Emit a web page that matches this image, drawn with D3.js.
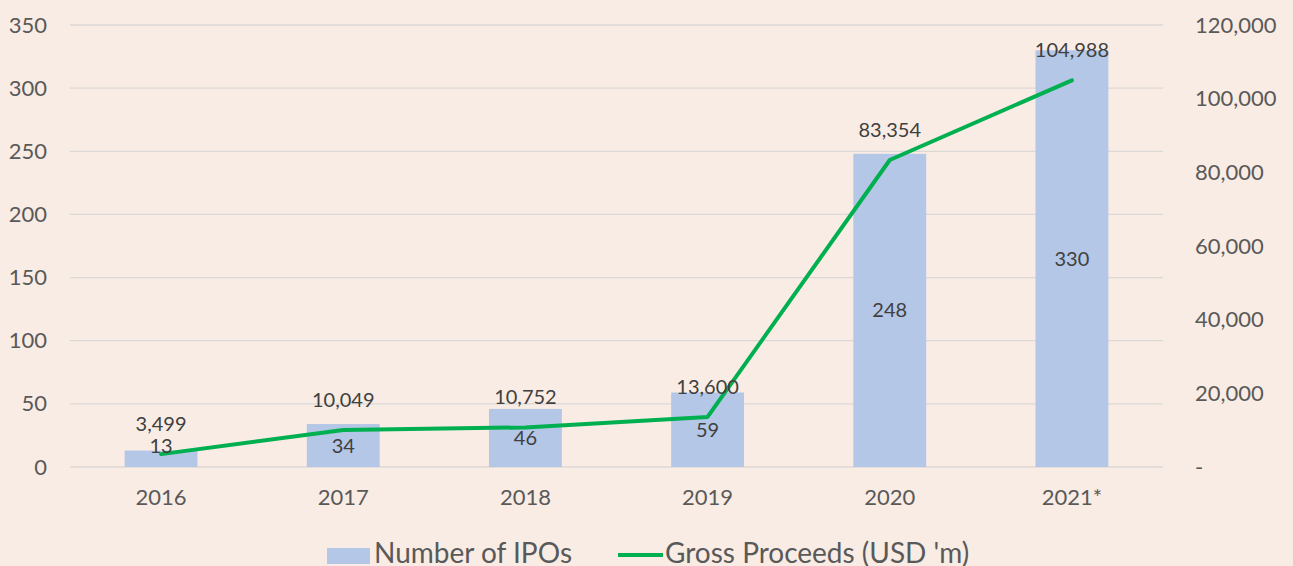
<!DOCTYPE html>
<html>
<head>
<meta charset="utf-8">
<script src="https://cdn.jsdelivr.net/npm/d3@7"></script>
<style>
  html, body { margin: 0; padding: 0; background: #f9ece4; }
  svg { display: block; }
  text { font-family: Lato, "Noto Sans", sans-serif; }
</style>
</head>
<body>
<svg id="chart" width="1293" height="566"></svg>
<script>
const categories = ["2016", "2017", "2018", "2019", "2020", "2021*"];
const ipoCounts = [13, 34, 46, 59, 248, 330];
const grossProceeds = [3499, 10049, 10752, 13600, 83354, 104988];
const leftTicks = [0, 50, 100, 150, 200, 250, 300, 350];
const rightTicks = [0, 20000, 40000, 60000, 80000, 100000, 120000];
const seriesNames = ["Number of IPOs", "Gross Proceeds (USD 'm)"];

const W = 1293, H = 566;
const plot = { left: 70, right: 1163, top: 25, bottom: 467 };
const svg = d3.select("#chart");
svg.append("rect").attr("width", W).attr("height", H).attr("fill", "#f9ece4");

const x = d3.scaleBand().domain(categories).range([plot.left, plot.right])
  .paddingInner(0.6).paddingOuter(0.3);
const yL = d3.scaleLinear().domain([0, 350]).range([plot.bottom, plot.top]);
const yR = d3.scaleLinear().domain([0, 120000]).range([plot.bottom, plot.top]);

const axisColor = "#595959";
const fmt = d3.format(",");

// gridlines
svg.append("g").selectAll("line").data(leftTicks).join("line")
  .attr("x1", plot.left).attr("x2", plot.right)
  .attr("y1", d => yL(d)).attr("y2", d => yL(d))
  .attr("stroke", "#dcd8d6").attr("stroke-width", 1.3);

// left axis
const gL = svg.append("g").attr("transform", "translate(47,0)")
  .call(d3.axisLeft(yL).tickValues(leftTicks).tickSize(0).tickPadding(0));
gL.select(".domain").remove();
gL.selectAll("text").attr("font-size", 22).attr("fill", axisColor)
  .attr("font-family", "Lato, 'Noto Sans', sans-serif");

// right axis
const gR = svg.append("g").attr("transform", "translate(1195,0)")
  .call(d3.axisRight(yR).tickValues(rightTicks).tickSize(0).tickPadding(0)
    .tickFormat(d => d === 0 ? "-" : fmt(d)));
gR.select(".domain").remove();
gR.selectAll("text").attr("font-size", 22).attr("fill", axisColor)
  .attr("font-family", "Lato, 'Noto Sans', sans-serif");

// x axis
const gX = svg.append("g").attr("transform", `translate(0,${plot.bottom})`)
  .call(d3.axisBottom(x).tickSize(0).tickPadding(22));
gX.select(".domain").remove();
gX.selectAll("text").attr("font-size", 22).attr("fill", axisColor)
  .attr("font-family", "Lato, 'Noto Sans', sans-serif");

// bars
svg.append("g").selectAll("rect").data(ipoCounts).join("rect")
  .attr("x", (d, i) => x(categories[i]))
  .attr("width", x.bandwidth())
  .attr("y", d => yL(d))
  .attr("height", d => yL(0) - yL(d))
  .attr("fill", "#b4c7e7");

// line
const line = d3.line()
  .x((d, i) => x(categories[i]) + x.bandwidth() / 2)
  .y(d => yR(d));
svg.append("path").datum(grossProceeds)
  .attr("d", line).attr("fill", "none")
  .attr("stroke", "#00b050").attr("stroke-width", 4)
  .attr("stroke-linejoin", "round").attr("stroke-linecap", "round");

const labelColor = "#404040";
// bar labels
svg.append("g").selectAll("text").data(ipoCounts).join("text")
  .attr("x", (d, i) => x(categories[i]) + x.bandwidth() / 2)
  .attr("y", d => {
    const h = yL(0) - yL(d);
    return h < 25 ? yL(d) - 5 : (yL(d) + yL(0)) / 2;
  })
  .attr("dy", "0.35em")
  .attr("text-anchor", "middle").attr("font-size", 20).attr("fill", labelColor)
  .text(d => d);

// line labels
svg.append("g").selectAll("text").data(grossProceeds).join("text")
  .attr("x", (d, i) => x(categories[i]) + x.bandwidth() / 2)
  .attr("y", d => yR(d) - 30)
  .attr("dy", "0.35em")
  .attr("text-anchor", "middle").attr("font-size", 20).attr("fill", labelColor)
  .text(d => fmt(d));

// legend
const lg = svg.append("g");
lg.append("rect").attr("x", 327).attr("y", 548).attr("width", 43).attr("height", 16).attr("fill", "#b4c7e7");
lg.append("text").attr("x", 374).attr("y", 563).attr("font-size", 28).attr("fill", axisColor).text(seriesNames[0]);
lg.append("line").attr("x1", 618).attr("x2", 663).attr("y1", 555).attr("y2", 555)
  .attr("stroke", "#00b050").attr("stroke-width", 4);
lg.append("text").attr("x", 665).attr("y", 563).attr("font-size", 28).attr("fill", axisColor).text(seriesNames[1]);
</script>
</body>
</html>
